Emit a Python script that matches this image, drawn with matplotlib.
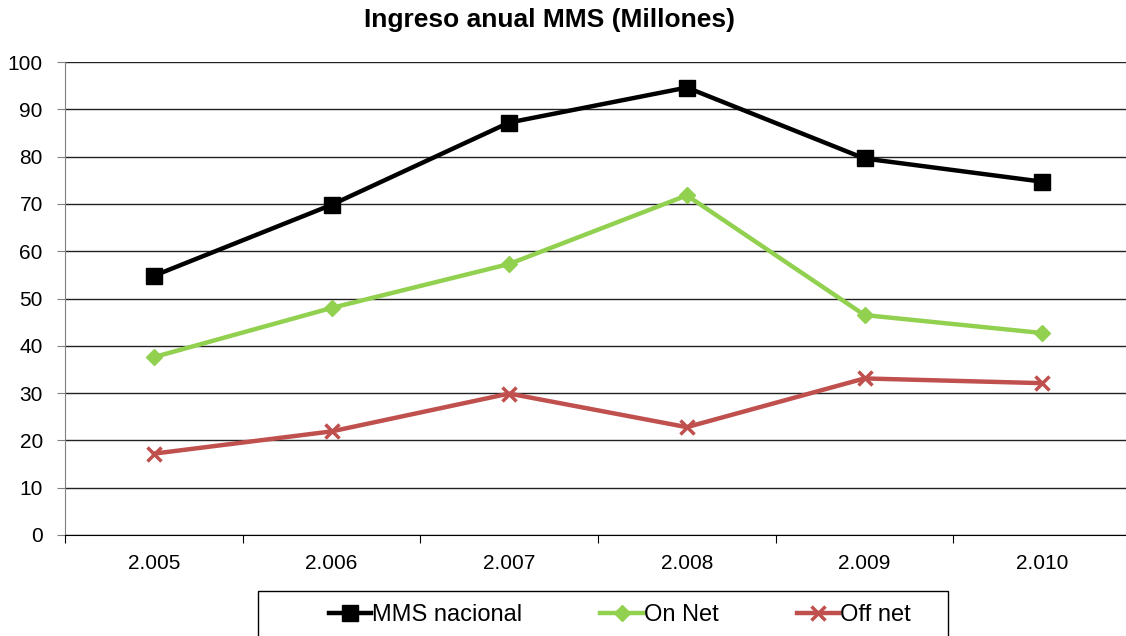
import matplotlib.pyplot as plt
from matplotlib.patches import Rectangle
import numpy as np

plt.rcParams['font.family'] = ['Liberation Sans', 'DejaVu Sans']

# Data
years = ['2.005', '2.006', '2.007', '2.008', '2.009', '2.010']
mms_nacional = [54.8, 69.8, 87.2, 94.6, 79.6, 74.7]
on_net = [37.6, 48.0, 57.3, 71.8, 46.5, 42.7]
off_net = [17.2, 21.9, 29.9, 22.8, 33.1, 32.1]

fig = plt.figure(figsize=(11.26, 6.36), dpi=100)
ax = fig.add_axes([65/1126, 101/636, 1066/1126, 473/636])

x = np.arange(len(years))
ax.plot(x, mms_nacional, color='black', lw=3.2, marker='s', ms=11, label='MMS nacional')
ax.plot(x, on_net, color='#92D050', lw=3.2, marker='D', ms=8, label='On Net')
ax.plot(x, off_net, color='#C0504D', lw=3.2, marker='x', ms=10, mew=2.5, label='Off net')

ax.set_xlim(-0.5, 5.5)
ax.set_ylim(0, 100)
ax.set_yticks(range(0, 101, 10))
ax.yaxis.grid(True, color='#222222', lw=1)
ax.set_axisbelow(True)

# category ticks between groups, labels centred under points
ax.set_xticks(np.arange(-0.5, 5.6, 1))
ax.set_xticklabels([])
ax.set_xticks(x, minor=True)
ax.set_xticklabels(years, minor=True)
ax.tick_params(axis='x', which='major', length=6, direction='out', color='black')
ax.tick_params(axis='x', which='minor', length=0, pad=14, labelsize=15)
ax.tick_params(axis='y', length=6, color='#808080', labelsize=15, pad=10)

for s in ['top', 'right']:
    ax.spines[s].set_visible(False)
ax.spines['left'].set_color('#808080')
ax.spines['bottom'].set_color('black')

fig.text(550/1126, 1-20/636, 'Ingreso anual MMS (Millones)', ha='center', va='center',
         fontsize=19, fontweight='bold')

# legend box (wider than its content)
fig.patches.append(Rectangle((258/1126, -0.05), 690/1126, 0.05 + 45/636,
                             transform=fig.transFigure, fill=False,
                             edgecolor='black', lw=1))
leg = fig.legend(loc='center', bbox_to_anchor=(620/1126, 1-615/636), ncol=3,
                 frameon=False, fontsize=17,
                 handlelength=1.8, handletextpad=0.05, columnspacing=3.3,
                 borderaxespad=0)

fig.savefig('out.png', dpi=100)
